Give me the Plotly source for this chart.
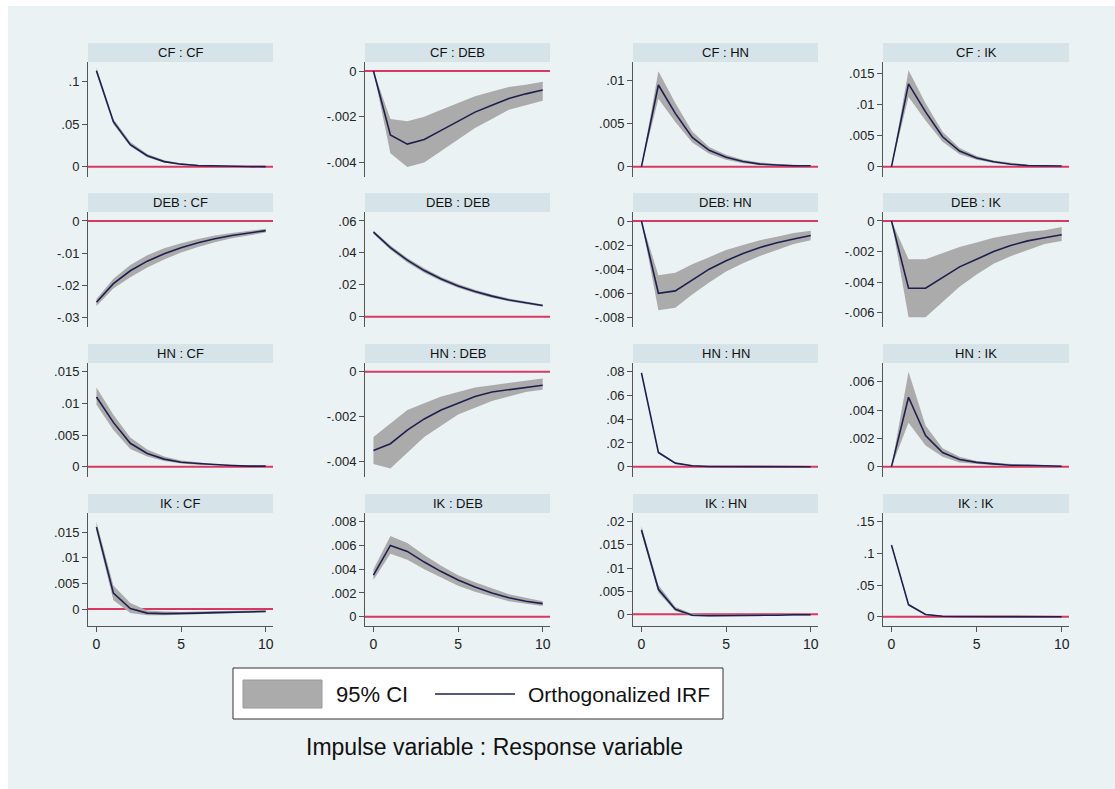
import plotly.graph_objects as go

steps = list(range(11))

titles = ["CF : CF", "CF : DEB", "CF : HN", "CF : IK",
          "DEB : CF", "DEB : DEB", "DEB: HN", "DEB : IK",
          "HN : CF", "HN : DEB", "HN : HN", "HN : IK",
          "IK : CF", "IK : DEB", "IK : HN", "IK : IK"]

# Orthogonalized IRF, lower and upper 95% CI per panel (impulse : response)
cf_cf = [0.113, 0.053, 0.026, 0.013, 0.006, 0.003, 0.0015, 0.0008, 0.0004, 0.0002, 0.0001]
cf_cf_lo = [0.110, 0.050, 0.024, 0.011, 0.005, 0.0022, 0.0010, 0.0004, 0.0002, 0.0001, 0.0000]
cf_cf_hi = [0.116, 0.056, 0.029, 0.015, 0.0075, 0.0038, 0.0020, 0.0012, 0.0007, 0.0004, 0.0002]

cf_deb = [0, -0.0028, -0.0032, -0.0030, -0.0026, -0.0022, -0.0018, -0.0015, -0.0012, -0.0010, -0.00083]
cf_deb_lo = [0, -0.0036, -0.0042, -0.0040, -0.0035, -0.0030, -0.0025, -0.0021, -0.0017, -0.0015, -0.0013]
cf_deb_hi = [0, -0.0021, -0.0022, -0.0020, -0.0017, -0.0014, -0.0011, -0.0009, -0.0007, -0.0006, -0.00047]

cf_hn = [0, 0.0095, 0.0062, 0.0034, 0.0019, 0.0011, 0.0006, 0.0003, 0.0002, 0.0001, 0.0001]
cf_hn_lo = [0, 0.0079, 0.0052, 0.0028, 0.0015, 0.0008, 0.0004, 0.0002, 0.0001, 0.00005, 0.00003]
cf_hn_hi = [0, 0.0111, 0.0074, 0.0041, 0.0023, 0.0014, 0.0008, 0.0005, 0.0003, 0.0002, 0.00015]

cf_ik = [0, 0.0133, 0.0088, 0.0048, 0.0025, 0.0014, 0.0008, 0.0004, 0.0002, 0.0001, 0.0001]
cf_ik_lo = [0, 0.0112, 0.0074, 0.0040, 0.0020, 0.0011, 0.0006, 0.0003, 0.0001, 0.00005, 0.00003]
cf_ik_hi = [0, 0.0155, 0.0102, 0.0056, 0.0030, 0.0017, 0.0010, 0.0006, 0.0003, 0.0002, 0.0001]

deb_cf = [-0.0253, -0.0195, -0.0155, -0.0125, -0.0102, -0.0083, -0.0068, -0.0055, -0.0045, -0.0037, -0.0030]
deb_cf_lo = [-0.0265, -0.0210, -0.0175, -0.0145, -0.0120, -0.0098, -0.0081, -0.0066, -0.0054, -0.0044, -0.0036]
deb_cf_hi = [-0.0243, -0.0180, -0.0137, -0.0107, -0.0085, -0.0069, -0.0056, -0.0045, -0.0037, -0.0030, -0.0024]

deb_deb = [0.053, 0.0433, 0.0354, 0.0289, 0.0236, 0.0193, 0.0158, 0.0129, 0.0105, 0.0086, 0.0070]
deb_deb_lo = [0.052, 0.0420, 0.0340, 0.0275, 0.0223, 0.0181, 0.0147, 0.0119, 0.0096, 0.0078, 0.0063]
deb_deb_hi = [0.054, 0.0446, 0.0368, 0.0303, 0.0249, 0.0205, 0.0169, 0.0139, 0.0114, 0.0094, 0.0077]

deb_hn = [0, -0.0060, -0.0058, -0.0049, -0.0040, -0.0033, -0.0027, -0.0022, -0.0018, -0.0015, -0.0012]
deb_hn_lo = [0, -0.0074, -0.0072, -0.0061, -0.0051, -0.0042, -0.0035, -0.0029, -0.0024, -0.0019, -0.0016]
deb_hn_hi = [0, -0.0045, -0.0043, -0.0036, -0.0030, -0.0024, -0.0020, -0.0016, -0.0013, -0.0010, -0.0008]

deb_ik = [0, -0.0044, -0.0044, -0.0037, -0.0030, -0.0025, -0.0020, -0.0016, -0.0013, -0.0011, -0.0009]
deb_ik_lo = [0, -0.0063, -0.0063, -0.0053, -0.0043, -0.0035, -0.0028, -0.0023, -0.0019, -0.0015, -0.0013]
deb_ik_hi = [0, -0.0025, -0.0025, -0.0021, -0.0017, -0.0014, -0.0011, -0.0009, -0.0007, -0.0006, -0.0004]

hn_cf = [0.0110, 0.0070, 0.0037, 0.0021, 0.0012, 0.0007, 0.0005, 0.0003, 0.0002, 0.0001, 0.0001]
hn_cf_lo = [0.0098, 0.0058, 0.0028, 0.0016, 0.0009, 0.0005, 0.0003, 0.0002, 0.0001, 0.0001, 0.00005]
hn_cf_hi = [0.0125, 0.0082, 0.0046, 0.0027, 0.0016, 0.0010, 0.0007, 0.0004, 0.0003, 0.0002, 0.00015]

hn_deb = [-0.0035, -0.0032, -0.0026, -0.0021, -0.0017, -0.0014, -0.0011, -0.0009, -0.0008, -0.0007, -0.0006]
hn_deb_lo = [-0.0041, -0.0043, -0.0036, -0.0029, -0.0024, -0.0019, -0.0016, -0.0013, -0.0011, -0.0009, -0.0008]
hn_deb_hi = [-0.0029, -0.0023, -0.0017, -0.0014, -0.0011, -0.0009, -0.0007, -0.0006, -0.0005, -0.0004, -0.0003]

hn_hn = [0.079, 0.012, 0.003, 0.0008, 0.0002, 0.0001, 0.00005, 0.00002, 0.00001, 0.0, 0.0]
hn_hn_lo = [0.078, 0.011, 0.0024, 0.0005, 0.0001, 0.0, 0.0, 0.0, 0.0, 0.0, 0.0]
hn_hn_hi = [0.080, 0.013, 0.0036, 0.0011, 0.0004, 0.0002, 0.0001, 0.00005, 0.00002, 0.00001, 0.00001]

hn_ik = [0, 0.0049, 0.0022, 0.0010, 0.0005, 0.0003, 0.0002, 0.0001, 0.0001, 0.00005, 0.00003]
hn_ik_lo = [0, 0.0031, 0.0015, 0.0007, 0.0003, 0.0002, 0.0001, 0.0001, 0.00005, 0.00002, 0.00001]
hn_ik_hi = [0, 0.0067, 0.0029, 0.0013, 0.0007, 0.0004, 0.0003, 0.0002, 0.0001, 0.0001, 0.00005]

ik_cf = [0.0160, 0.0031, 0.0001, -0.0008, -0.0009, -0.0009, -0.0008, -0.0007, -0.0006, -0.0005, -0.0005]
ik_cf_lo = [0.0152, 0.0017, -0.0008, -0.0012, -0.0012, -0.0011, -0.0010, -0.0009, -0.0008, -0.0007, -0.0006]
ik_cf_hi = [0.0170, 0.0046, 0.0012, -0.0003, -0.0005, -0.0006, -0.0005, -0.0004, -0.0003, -0.0003, -0.0002]

ik_deb = [0.0035, 0.0060, 0.0055, 0.0046, 0.0038, 0.0031, 0.0025, 0.0020, 0.0016, 0.0013, 0.0011]
ik_deb_lo = [0.0031, 0.0053, 0.0048, 0.0040, 0.0033, 0.0026, 0.0021, 0.0017, 0.0013, 0.0011, 0.0009]
ik_deb_hi = [0.0040, 0.0068, 0.0062, 0.0052, 0.0043, 0.0035, 0.0029, 0.0024, 0.0019, 0.0016, 0.0013]

ik_hn = [0.0182, 0.0054, 0.0011, -0.0002, -0.0003, -0.0003, -0.0003, -0.0002, -0.0002, -0.0001, -0.0001]
ik_hn_lo = [0.0175, 0.0047, 0.0007, -0.0004, -0.0005, -0.0005, -0.0005, -0.0004, -0.0003, -0.0002, -0.0002]
ik_hn_hi = [0.0190, 0.0063, 0.0016, 0.0001, -0.0001, -0.0001, -0.0001, -0.0001, 0.0, 0.0, 0.0]

ik_ik = [0.113, 0.019, 0.0035, 0.0007, 0.0002, 0.00005, 0.0, 0.0, 0.0, 0.0, 0.0]
ik_ik_lo = [0.111, 0.017, 0.0025, 0.0003, 0.0, 0.0, 0.0, 0.0, 0.0, 0.0, 0.0]
ik_ik_hi = [0.115, 0.021, 0.0045, 0.0011, 0.0004, 0.0001, 0.00005, 0.0, 0.0, 0.0, 0.0]

irfs = [cf_cf, cf_deb, cf_hn, cf_ik, deb_cf, deb_deb, deb_hn, deb_ik,
        hn_cf, hn_deb, hn_hn, hn_ik, ik_cf, ik_deb, ik_hn, ik_ik]
los = [cf_cf_lo, cf_deb_lo, cf_hn_lo, cf_ik_lo, deb_cf_lo, deb_deb_lo, deb_hn_lo, deb_ik_lo,
       hn_cf_lo, hn_deb_lo, hn_hn_lo, hn_ik_lo, ik_cf_lo, ik_deb_lo, ik_hn_lo, ik_ik_lo]
his = [cf_cf_hi, cf_deb_hi, cf_hn_hi, cf_ik_hi, deb_cf_hi, deb_deb_hi, deb_hn_hi, deb_ik_hi,
       hn_cf_hi, hn_deb_hi, hn_hn_hi, hn_ik_hi, ik_cf_hi, ik_deb_hi, ik_hn_hi, ik_ik_hi]

ytick_vals = [
    [0, 0.05, 0.1], [-0.004, -0.002, 0], [0, 0.005, 0.01], [0, 0.005, 0.01, 0.015],
    [-0.03, -0.02, -0.01, 0], [0, 0.02, 0.04, 0.06], [-0.008, -0.006, -0.004, -0.002, 0], [-0.006, -0.004, -0.002, 0],
    [0, 0.005, 0.01, 0.015], [-0.004, -0.002, 0], [0, 0.02, 0.04, 0.06, 0.08], [0, 0.002, 0.004, 0.006],
    [0, 0.005, 0.01, 0.015], [0, 0.002, 0.004, 0.006, 0.008], [0, 0.005, 0.01, 0.015, 0.02], [0, 0.05, 0.1, 0.15],
]
ytick_text = [
    ["0", ".05", ".1"], ["-.004", "-.002", "0"], ["0", ".005", ".01"], ["0", ".005", ".01", ".015"],
    ["-.03", "-.02", "-.01", "0"], ["0", ".02", ".04", ".06"], ["-.008", "-.006", "-.004", "-.002", "0"], ["-.006", "-.004", "-.002", "0"],
    ["0", ".005", ".01", ".015"], ["-.004", "-.002", "0"], ["0", ".02", ".04", ".06", ".08"], ["0", ".002", ".004", ".006"],
    ["0", ".005", ".01", ".015"], ["0", ".002", ".004", ".006", ".008"], ["0", ".005", ".01", ".015", ".02"], ["0", ".05", ".1", ".15"],
]
xtick_vals = [0, 5, 10]
xtick_text = ["0", "5", "10"]

legend_labels = ["95% CI", "Orthogonalized IRF"]
axis_title = "Impulse variable : Response variable"

# ---- layout (pixel geometry) ----
W, H = 1115, 789
XRANGE = [-0.5, 10.43]
yranges = [
    [-0.0121, 0.1232], [-0.00464, 0.000394], [-0.0012, 0.01217], [-0.00166, 0.01682],
    [-0.033, 0.0028], [-0.00646, 0.0656], [-0.0088, 0.000747], [-0.00693, 0.000588],
    [-0.00162, 0.01637], [-0.00468, 0.000387], [-0.00867, 0.0873], [-0.00073, 0.00732],
    [-0.00332, 0.01877], [-0.00078, 0.00873], [-0.00253, 0.02188], [-0.0147, 0.1637],
]
col_px = [(88, 273), (365, 550), (633, 818), (883, 1069)]
row_px = [(62, 177), (212, 327), (363, 477), (513, 626)]
strip_h = 19

BAND = "#ABABAB"
LINE = "#1F1F4F"
RED = "#D93862"
STRIP = "#D6E3E9"
BG = "#EAF2F3"
FONT = "Liberation Sans, Arial, sans-serif"


def px_x(p):
    return p / W


def px_y(p):
    return 1 - p / H


fig = go.Figure()
layout = dict(
    width=W, height=H, margin=dict(l=0, r=0, t=0, b=0),
    paper_bgcolor="white", plot_bgcolor="white", showlegend=False,
    font=dict(family=FONT, color="#222222"), hovermode=False,
)
shapes = [dict(type="rect", xref="paper", yref="paper", x0=px_x(8), x1=1, y0=0, y1=px_y(6),
               fillcolor=BG, line=dict(width=0), layer="below")]
annotations = []

for i in range(16):
    r, c = divmod(i, 4)
    k = i + 1
    xa = "x" if k == 1 else f"x{k}"
    ya = "y" if k == 1 else f"y{k}"
    fig.add_trace(go.Scatter(x=steps, y=his[i], mode="lines", line=dict(width=0, color=BAND),
                             xaxis=xa, yaxis=ya, hoverinfo="skip"))
    fig.add_trace(go.Scatter(x=steps, y=los[i], mode="lines", line=dict(width=0, color=BAND),
                             fill="tonexty", fillcolor=BAND, xaxis=xa, yaxis=ya, hoverinfo="skip"))
    fig.add_trace(go.Scatter(x=steps, y=irfs[i], mode="lines", line=dict(width=1.6, color=LINE),
                             xaxis=xa, yaxis=ya))
    x0, x1 = col_px[c]
    y0, y1 = row_px[r]
    bottom = (r == 3)
    layout["xaxis" if k == 1 else f"xaxis{k}"] = dict(
        domain=[px_x(x0), px_x(x1)], anchor=ya, range=XRANGE,
        showgrid=False, zeroline=False,
        showline=bottom, linecolor="#555555", linewidth=1,
        ticks="outside" if bottom else "", ticklen=5, tickcolor="#555555",
        tickvals=xtick_vals, ticktext=xtick_text, showticklabels=bottom,
        tickfont=dict(size=14, family=FONT, color="#222222"),
    )
    layout["yaxis" if k == 1 else f"yaxis{k}"] = dict(
        domain=[px_y(y1), px_y(y0)], anchor=xa, range=yranges[i],
        showgrid=True, gridcolor=BG, gridwidth=1, zeroline=False,
        showline=True, linecolor="#555555", linewidth=1,
        ticks="outside", ticklen=5, tickcolor="#555555",
        tickvals=ytick_vals[i], ticktext=ytick_text[i],
        tickfont=dict(size=13, family=FONT, color="#222222"),
    )
    shapes.append(dict(type="line", xref=xa, yref=ya, x0=XRANGE[0], x1=XRANGE[1], y0=0, y1=0,
                       line=dict(color=RED, width=2), layer="between"))
    shapes.append(dict(type="rect", xref="paper", yref="paper",
                       x0=px_x(x0), x1=px_x(x1), y0=px_y(y0), y1=px_y(y0 - strip_h),
                       fillcolor=STRIP, line=dict(width=0)))
    annotations.append(dict(text=titles[i], xref="paper", yref="paper",
                            x=px_x((x0 + x1) / 2), y=px_y(y0 - strip_h / 2),
                            xanchor="center", yanchor="middle", showarrow=False,
                            font=dict(size=13, family=FONT, color="#111111")))

# legend box
shapes.append(dict(type="rect", xref="paper", yref="paper", x0=px_x(233), x1=px_x(723),
                   y0=px_y(719), y1=px_y(668), fillcolor="white", line=dict(color="#333333", width=1)))
shapes.append(dict(type="rect", xref="paper", yref="paper", x0=px_x(243), x1=px_x(322),
                   y0=px_y(708), y1=px_y(680), fillcolor=BAND, line=dict(color="#9A9A9A", width=1)))
shapes.append(dict(type="line", xref="paper", yref="paper", x0=px_x(435), x1=px_x(515),
                   y0=px_y(694), y1=px_y(694), line=dict(color=LINE, width=1.6)))
annotations.append(dict(text=legend_labels[0], xref="paper", yref="paper", x=px_x(334), y=px_y(694),
                        xanchor="left", yanchor="middle", showarrow=False,
                        font=dict(size=22, family=FONT, color="#111111")))
annotations.append(dict(text=legend_labels[1], xref="paper", yref="paper", x=px_x(526), y=px_y(694),
                        xanchor="left", yanchor="middle", showarrow=False,
                        font=dict(size=21, family=FONT, color="#111111")))
annotations.append(dict(text=axis_title, xref="paper", yref="paper", x=px_x(494), y=px_y(747),
                        xanchor="center", yanchor="middle", showarrow=False,
                        font=dict(size=23, family=FONT, color="#111111")))

layout["shapes"] = shapes
layout["annotations"] = annotations
fig.update_layout(**layout)
fig.write_html("out.html", config={"displayModeBar": False, "staticPlot": True},
               post_script="document.body.style.margin='0px';")
